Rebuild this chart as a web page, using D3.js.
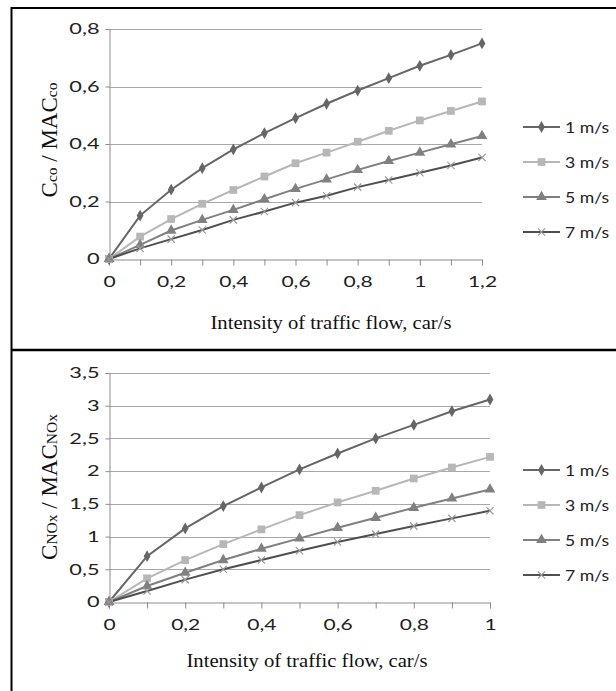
<!DOCTYPE html>
<html>
<head>
<meta charset="utf-8">
<script src="https://cdn.jsdelivr.net/npm/d3@7"></script>
<style>
  body { margin: 0; background: #fff; }
  svg { display: block; }
</style>
</head>
<body>
<svg id="chart" width="616" height="691"></svg>
<script>
// Series names (wind speed)
const speeds = ["1 m/s", "3 m/s", "5 m/s", "7 m/s"];

// Top panel: CO
const coFlow = [0, 0.1, 0.2, 0.3, 0.4, 0.5, 0.6, 0.7, 0.8, 0.9, 1.0, 1.1, 1.2];
const co1 = [0, 0.151, 0.241, 0.316, 0.381, 0.438, 0.490, 0.540, 0.586, 0.629, 0.672, 0.710, 0.750];
const co3 = [0, 0.078, 0.139, 0.192, 0.240, 0.287, 0.333, 0.370, 0.408, 0.446, 0.482, 0.515, 0.548];
const co5 = [0, 0.049, 0.099, 0.136, 0.171, 0.208, 0.244, 0.277, 0.310, 0.341, 0.370, 0.399, 0.428];
const co7 = [0, 0.037, 0.069, 0.101, 0.136, 0.165, 0.196, 0.220, 0.250, 0.275, 0.300, 0.325, 0.353];
const coXTicks = [0, 0.2, 0.4, 0.6, 0.8, 1, 1.2];
const coYTicks = [0, 0.2, 0.4, 0.6, 0.8];

// Bottom panel: NOx
const noxFlow = [0, 0.1, 0.2, 0.3, 0.4, 0.5, 0.6, 0.7, 0.8, 0.9, 1.0];
const nox1 = [0, 0.700, 1.125, 1.466, 1.751, 2.026, 2.270, 2.500, 2.707, 2.916, 3.095];
const nox3 = [0, 0.362, 0.641, 0.885, 1.110, 1.328, 1.522, 1.700, 1.888, 2.056, 2.218];
const nox5 = [0, 0.244, 0.447, 0.641, 0.814, 0.972, 1.134, 1.287, 1.440, 1.583, 1.720];
const nox7 = [0, 0.168, 0.342, 0.500, 0.641, 0.783, 0.916, 1.038, 1.160, 1.278, 1.394];
const noxXTicks = [0, 0.2, 0.4, 0.6, 0.8, 1];
const noxYTicks = [0, 0.5, 1, 1.5, 2, 2.5, 3, 3.5];

const xTitle = "Intensity of traffic flow, car/s";

// Styling per series
const lineColors = ["#666666", "#b7b7b7", "#808080", "#4f4f4f"];
const markColors = ["#666666", "#b7b7b7", "#808080", "#9a9a9a"];
const symbols = [d3.symbolDiamond, d3.symbolSquare, d3.symbolTriangle, d3.symbolTimes];
const symSizes = [40, 60, 50, 36];

const tickFont = "Lato, 'Open Sans', sans-serif";
const titleFont = "'Liberation Serif', 'Times New Roman', serif";
const commaFmt = v => String(v).replace(".", ",");

// The picture is a bit wider than tall, so widen the text to match
function stretch(sel, f) {
  sel.each(function() {
    const w = this.getComputedTextLength();
    this.setAttribute("textLength", w * f);
    this.setAttribute("lengthAdjust", "spacingAndGlyphs");
  });
}

const svg = d3.select("#chart");

// Frame: left edge, top edge and the divider between the panels
svg.append("line").attr("x1", 11.5).attr("y1", 7).attr("x2", 11.5).attr("y2", 691)
  .attr("stroke", "#000").attr("stroke-width", 2);
svg.append("line").attr("x1", 11).attr("y1", 8).attr("x2", 616).attr("y2", 8)
  .attr("stroke", "#000").attr("stroke-width", 2);
svg.append("line").attr("x1", 11).attr("y1", 350).attr("x2", 616).attr("y2", 350)
  .attr("stroke", "#000").attr("stroke-width", 2.5);

function drawPanel(p) {
  const x = d3.scaleLinear().domain([0, p.xMax]).range([p.left, p.right]);
  const y = d3.scaleLinear().domain([0, p.yMax]).range([p.bottom, p.top]);
  const g = svg.append("g");

  // Horizontal gridlines
  g.selectAll("line.grid").data(p.yTicks.slice(1)).join("line")
    .attr("class", "grid")
    .attr("x1", p.left).attr("x2", p.right)
    .attr("y1", d => Math.round(y(d)) + 0.5).attr("y2", d => Math.round(y(d)) + 0.5)
    .attr("stroke", "#a8a8a8").attr("stroke-width", 1);

  // Y axis
  const yAxis = g.append("g")
    .attr("transform", `translate(${Math.round(p.left) + 0.5},0)`)
    .call(d3.axisLeft(y).tickValues(p.yTicks).tickSize(4).tickPadding(6).tickFormat(commaFmt));
  yAxis.select(".domain").attr("stroke", "#8c8c8c");
  yAxis.selectAll(".tick line").attr("stroke", "#8c8c8c");
  yAxis.selectAll("text").attr("font-family", tickFont).attr("font-size", 15).attr("fill", "#222")
    .call(stretch, 1.45);

  // X axis: minor ticks every 0.1, labels on the major ones
  const xAxis = g.append("g")
    .attr("transform", `translate(0,${Math.round(p.bottom) + 0.5})`)
    .call(d3.axisBottom(x).tickValues(p.flow).tickSizeOuter(0).tickSize(6).tickPadding(11)
      .tickFormat(d => p.xTicks.some(t => Math.abs(t - d) < 1e-9) ? commaFmt(d) : ""));
  xAxis.select(".domain").attr("stroke", "#8c8c8c");
  xAxis.selectAll(".tick line").attr("stroke", "#8c8c8c");
  xAxis.selectAll("text").attr("font-family", tickFont).attr("font-size", 15).attr("fill", "#222")
    .filter(function() { return this.textContent !== ""; })
    .call(stretch, 1.4);

  // Lines and markers
  const line = d3.line().x((d, i) => x(p.flow[i])).y(d => y(d));
  p.series.forEach((vals, k) => {
    g.append("path").datum(vals)
      .attr("d", line).attr("fill", "none")
      .attr("stroke", lineColors[k]).attr("stroke-width", 2);
  });
  p.series.forEach((vals, k) => {
    const isX = symbols[k] === d3.symbolTimes;
    g.selectAll(null).data(vals).join("path")
      .attr("transform", (d, i) => `translate(${x(p.flow[i])},${y(d)})`)
      .attr("d", d3.symbol(symbols[k], symSizes[k]))
      .attr("fill", isX ? "none" : markColors[k])
      .attr("stroke", isX ? markColors[k] : "none")
      .attr("stroke-width", 1.2);
  });

  // Legend
  speeds.forEach((name, k) => {
    const ly = p.legendY[k];
    g.append("line").attr("x1", 523).attr("x2", 560).attr("y1", ly).attr("y2", ly)
      .attr("stroke", lineColors[k]).attr("stroke-width", 2);
    const isX = symbols[k] === d3.symbolTimes;
    g.append("path").attr("transform", `translate(541.5,${ly})`)
      .attr("d", d3.symbol(symbols[k], symSizes[k]))
      .attr("fill", isX ? "none" : markColors[k])
      .attr("stroke", isX ? markColors[k] : "none").attr("stroke-width", 1.2);
    g.append("text").attr("x", 565).attr("y", ly).attr("dy", "0.36em")
      .attr("font-family", tickFont).attr("font-size", 16).attr("fill", "#222")
      .text(name)
      .call(stretch, 1.1);
  });

  // X axis title
  g.append("text").attr("x", p.xTitleX).attr("y", p.xTitleY).attr("text-anchor", "middle")
    .attr("font-family", titleFont).attr("font-size", 19.5).attr("fill", "#111")
    .text(xTitle)
    .call(stretch, 1.06);

  // Y axis title with small subscript-like parts
  const yt = g.append("text")
    .attr("transform", `translate(${p.yTitleX},${p.yTitleY}) rotate(-90)`)
    .attr("text-anchor", "middle")
    .attr("font-family", titleFont).attr("font-size", 23).attr("fill", "#111");
  p.yTitle.forEach(part => {
    yt.append("tspan").attr("font-size", part.small ? 15.5 : 23).text(part.t);
  });
}

drawPanel({
  flow: coFlow, series: [co1, co3, co5, co7],
  xMax: 1.2, yMax: 0.8, xTicks: coXTicks, yTicks: coYTicks,
  left: 109, right: 482, top: 29, bottom: 259,
  legendY: [127, 162, 197, 232],
  xTitleX: 331, xTitleY: 329,
  yTitleX: 57, yTitleY: 140,
  yTitle: [{t: "C"}, {t: "co", small: true}, {t: " / MAC"}, {t: "co", small: true}]
});

drawPanel({
  flow: noxFlow, series: [nox1, nox3, nox5, nox7],
  xMax: 1, yMax: 3.5, xTicks: noxXTicks, yTicks: noxYTicks,
  left: 109, right: 490, top: 373, bottom: 602,
  legendY: [470, 505, 540, 575],
  xTitleX: 307, xTitleY: 667,
  yTitleX: 57, yTitleY: 487,
  yTitle: [{t: "C"}, {t: "NOx", small: true}, {t: " / MAC"}, {t: "NOx", small: true}]
});
</script>
</body>
</html>
